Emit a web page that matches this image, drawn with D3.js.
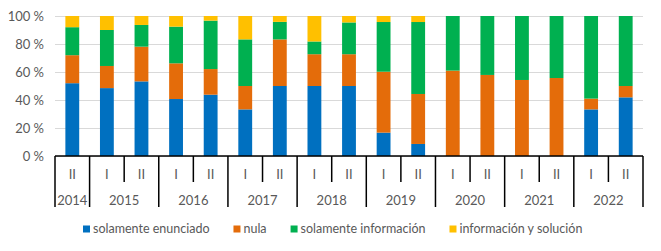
<!DOCTYPE html>
<html>
<head>
<meta charset="utf-8">
<script src="https://cdn.jsdelivr.net/npm/d3@7"></script>
<style>
  body { margin: 0; background: #fff; }
  text { font-family: Lato, sans-serif; fill: #595959; }
</style>
</head>
<body>
<div id="container"></div>
<script>
// data (shares in %)
let semesters = ['II', 'I', 'II', 'I', 'II', 'I', 'II', 'I', 'II', 'I', 'II', 'I', 'II', 'I', 'II', 'I', 'II']
let years = ['2014', '2015', '2015', '2016', '2016', '2017', '2017', '2018', '2018', '2019', '2019', '2020', '2020', '2021', '2021', '2022', '2022']
let soloEnunciado = [52, 48.5, 53.3, 40.7, 43.8, 33.3, 50, 50, 50, 16.7, 8.6, 0, 0, 0, 0, 33.3, 41.9]
let nula = [20, 15.8, 24.8, 25.5, 18.3, 16.7, 33.3, 22.7, 22.7, 43.5, 35.7, 61, 57.9, 54.3, 55.7, 7.7, 8.1]
let soloInformacion = [20, 25.7, 15.5, 26.2, 34.6, 33.3, 12.5, 9.1, 22.7, 35.5, 51.4, 39, 42.1, 45.7, 44.3, 59, 50]
let infoSolucion = [8, 10, 6.4, 7.6, 3.3, 16.7, 4.2, 18.2, 4.6, 4.3, 4.3, 0, 0, 0, 0, 0, 0]
let seriesNames = ['solamente enunciado', 'nula', 'solamente información', 'información y solución']
let colors = ['#0070C0', '#E46C0A', '#00B050', '#FFC000']

let width = 661,
  height = 251,
  margin = { top: 16, right: 18, bottom: 95, left: 55 },
  bodyWidth = width - margin.left - margin.right,
  bodyHeight = height - margin.top - margin.bottom

let rows = semesters.map((s, i) => ({
  i: i,
  'solamente enunciado': soloEnunciado[i],
  'nula': nula[i],
  'solamente información': soloInformacion[i],
  'información y solución': infoSolucion[i]
}))
let stacked = d3.stack().keys(seriesNames).offset(d3.stackOffsetExpand)(rows)

let xScale = d3.scaleBand().domain(d3.range(semesters.length)).range([0, bodyWidth])
    .paddingInner(0.6).paddingOuter(0.3),
  yScale = d3.scaleLinear().domain([0, 1]).range([bodyHeight, 0])

let svg = d3.select('#container')
  .append('svg')
  .attr('width', width)
  .attr('height', height)

let g = svg.append('g')
  .attr('transform', 'translate(' + margin.left + ', ' + margin.top + ')')

// gridlines + y labels
let yAxis = d3.axisLeft(yScale)
  .tickValues(d3.range(0, 1.01, 0.2))
  .tickSize(-bodyWidth)
  .tickPadding(11)
  .tickFormat(d => Math.round(d * 100) + ' %')
g.append('g')
  .call(yAxis)
  .call(a => a.select('.domain').remove())
  .call(a => a.selectAll('line').attr('stroke', '#d9d9d9'))
  .call(a => a.selectAll('text').style('font-size', '13px').attr('fill', '#595959'))

// bars
g.selectAll('.serie')
  .data(stacked)
  .enter().append('g')
  .attr('fill', (d, k) => colors[k])
  .selectAll('rect')
  .data(d => d)
  .enter().append('rect')
  .attr('x', d => xScale(d.data.i))
  .attr('width', xScale.bandwidth())
  .attr('y', d => yScale(d[1]))
  .attr('height', d => yScale(d[0]) - yScale(d[1]))

// category axis, two levels
let step = xScale.step()
let xg = g.append('g').attr('transform', 'translate(0, ' + bodyHeight + ')')
xg.append('line')
  .attr('x1', 0).attr('x2', bodyWidth)
  .attr('stroke', '#000').attr('stroke-width', 1.5)

let bounds = d3.range(semesters.length + 1)
xg.selectAll('.sep')
  .data(bounds)
  .enter().append('line')
  .attr('x1', i => i * step).attr('x2', i => i * step)
  .attr('y1', 0)
  .attr('y2', i => (i === 0 || i === semesters.length || years[i] !== years[i - 1]) ? 51 : 26)
  .attr('stroke', '#000').attr('stroke-width', 1.5)

xg.selectAll('.sem')
  .data(semesters)
  .enter().append('text')
  .attr('x', (d, i) => xScale(i) + xScale.bandwidth() / 2)
  .attr('y', 18)
  .attr('dy', '0.35em')
  .attr('text-anchor', 'middle')
  .style('font-size', '13px')
  .text(d => d)

let yearList = Array.from(new Set(years))
xg.selectAll('.year')
  .data(yearList)
  .enter().append('text')
  .attr('x', y => {
    let idx = years.map((v, i) => v === y ? i : -1).filter(i => i >= 0)
    return (d3.min(idx) + d3.max(idx) + 1) / 2 * step
  })
  .attr('y', 44)
  .attr('dy', '0.35em')
  .attr('text-anchor', 'middle')
  .style('font-size', '13px')
  .text(d => d)

// legend
let legend = svg.append('g').attr('transform', 'translate(83, 229)')
let lx = 0
seriesNames.forEach((name, k) => {
  let item = legend.append('g').attr('transform', 'translate(' + lx + ', 0)')
  item.append('rect')
    .attr('x', 0).attr('y', -3.5)
    .attr('width', 7).attr('height', 7)
    .attr('fill', colors[k])
  let t = item.append('text')
    .attr('x', 10)
    .attr('dy', '0.35em')
    .style('font-size', '12.5px')
    .text(name)
  lx += 10 + t.node().getComputedTextLength() + 24
})
</script>
</body>
</html>
